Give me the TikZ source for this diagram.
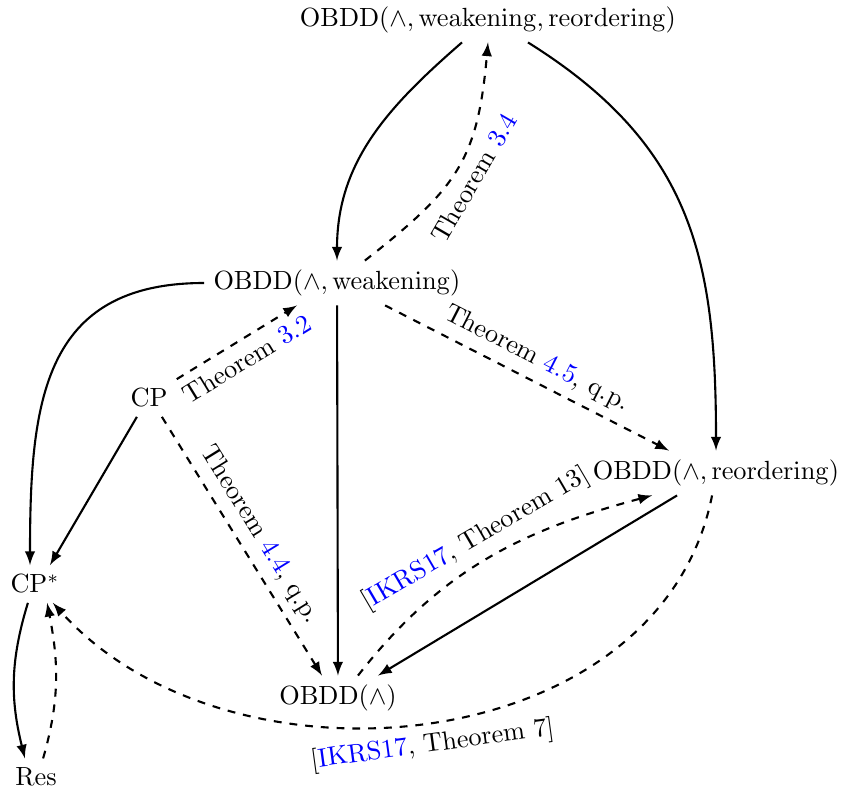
\documentclass[tikz,border=0pt]{standalone}
\usetikzlibrary{arrows}
\begin{document}
\begin{tikzpicture}[x=0.3802pt,y=0.3802pt,>=latex,
  sol/.style={->,thick},
  das/.style={->,thick,dashed}]
\useasboundingbox (0,0) rectangle (843,-793);
\node (T) at (488,-20) {OBDD$(\wedge, \mathrm{weakening}, \mathrm{reordering})$};
\node (W) at (337,-283) {OBDD$(\wedge, \mathrm{weakening})$};
\node (CP) at (149,-398) {CP};
\node (R) at (716,-473) {OBDD$(\wedge, \mathrm{reordering})$};
\node (CPs) at (35,-584) {CP$^*$};
\node (Res) at (36,-777) {Res};
\node (A) at (338,-698) {OBDD$(\wedge)$};

\draw[sol] ([xshift=-9.9pt]T.south) to[out=-139,in=90] (W.north);
\draw[das] ([xshift=10.6pt]W.north) to[out=38,in=-95,looseness=1.2] node[below,sloped] {Theorem \textcolor{blue}{3.4}} (T.south);
\draw[sol] ([xshift=15.2pt]T.south) to[out=-32,in=90,looseness=1.1] (R.north);
\draw[sol] (W.west) to[out=180,in=90,looseness=1.25] ([xshift=-1.9pt]CPs.north);
\draw[das] (CP.north east) -- node[below,sloped] {Theorem \textcolor{blue}{3.2}} ([xshift=-15.2pt]W.south);
\draw[das] ([xshift=18.3pt]W.south) -- node[above,sloped] {Theorem \textcolor{blue}{4.5}, q.p.} ([xshift=-17.9pt]R.north);
\draw[sol] (W) -- (A);
\draw[das] ([xshift=4.9pt]CP.south) -- node[above,sloped] {Theorem \textcolor{blue}{4.4}, q.p.} ([xshift=-6.1pt]A.north);
\draw[sol] ([xshift=-4.6pt]CP.south) -- ([xshift=5.7pt]CPs.north);
\draw[sol] ([xshift=-14.8pt]R.south) -- ([xshift=15.2pt]A.north);
\draw[das] ([xshift=7.6pt]A.north) to[out=52,in=-165] node[above,sloped,pos=0.5] {[\textcolor{blue}{IKRS17}, Theorem 13]} ([xshift=-24.3pt]R.south);
\draw[das] ([xshift=-1.5pt]R.south) .. controls (660,-760) and (230,-800) .. node[below,sloped,pos=0.5] {[\textcolor{blue}{IKRS17}, Theorem 7]} ([xshift=6.8pt]CPs.south);
\draw[sol] ([xshift=-2.7pt]CPs.south) to[out=-107,in=104] ([xshift=-4.2pt]Res.north);
\draw[das] ([xshift=2.7pt]Res.north) to[out=74,in=-79] ([xshift=4.6pt]CPs.south);
\end{tikzpicture}
\end{document}
